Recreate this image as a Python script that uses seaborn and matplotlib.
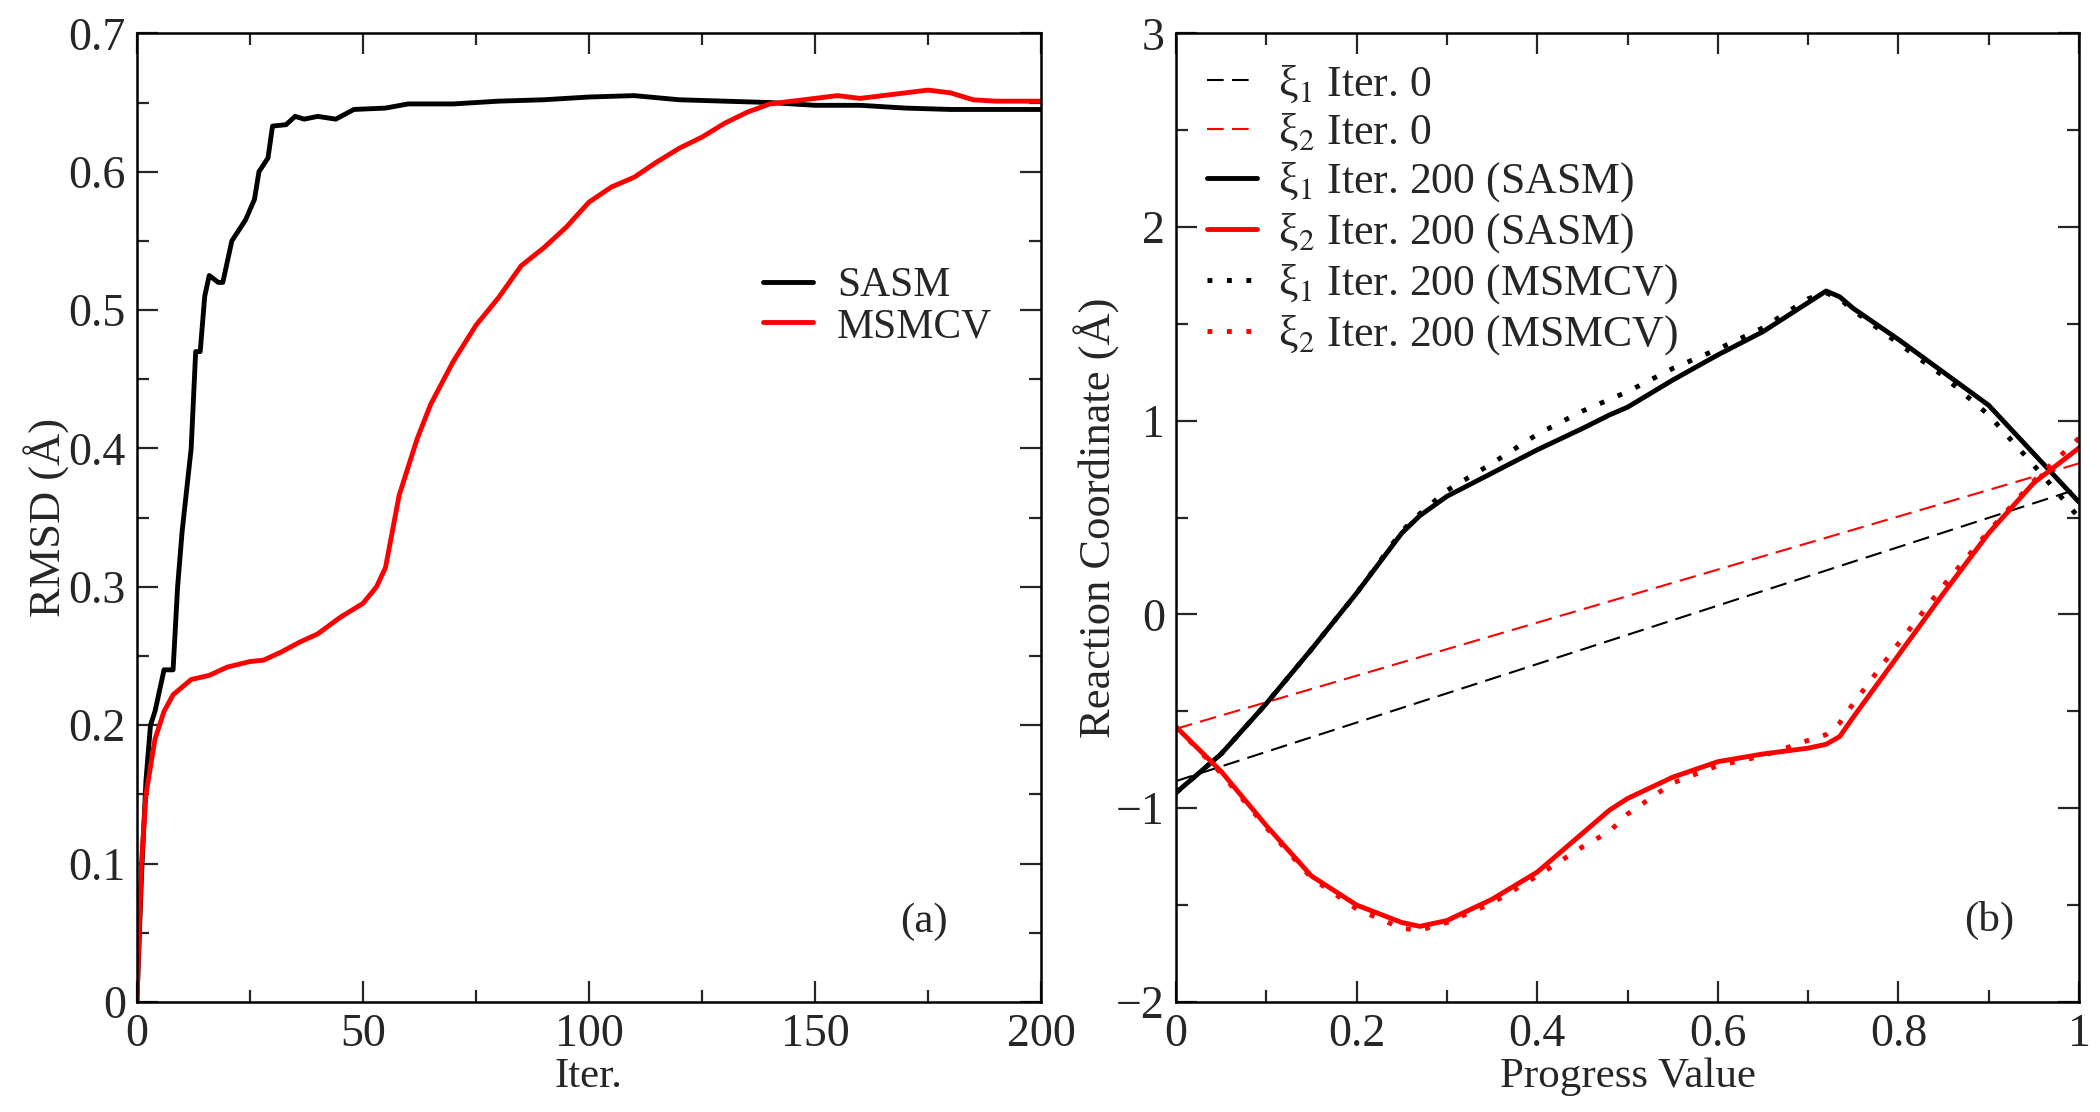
import numpy as np
import matplotlib
matplotlib.use("Agg")
import matplotlib.pyplot as plt
from matplotlib.ticker import MultipleLocator
import seaborn as sns

# ---- panel (a): RMSD vs iteration ----
sasm_iter = [0, 1, 2, 3, 4, 6, 8, 9, 10, 12, 13, 14, 15, 16, 18, 19, 21, 24, 26, 27, 29, 30, 33, 35,
             37, 40, 44, 48, 55, 60, 70, 80, 90, 100, 110, 120, 130, 140, 150, 160, 170, 180, 200]
sasm_rmsd = [0.0, 0.09, 0.16, 0.20, 0.21, 0.24, 0.24, 0.30, 0.34, 0.40, 0.47, 0.47, 0.51, 0.525, 0.52, 0.52,
             0.55, 0.565, 0.58, 0.60, 0.61, 0.633, 0.634, 0.64, 0.638, 0.64, 0.638, 0.645, 0.646, 0.649,
             0.649, 0.651, 0.652, 0.654, 0.655, 0.652, 0.651, 0.650, 0.648, 0.648, 0.646, 0.645, 0.645]

msmcv_iter = [0, 1, 2, 4, 6, 8, 12, 16, 20, 25, 28, 32, 36, 40, 45, 50, 53, 55, 58, 62, 65, 70, 75, 80,
              85, 90, 95, 100, 105, 110, 115, 120, 125, 130, 135, 140, 150, 155, 160, 170, 175, 180,
              185, 190, 200]
msmcv_rmsd = [0.0, 0.10, 0.15, 0.19, 0.21, 0.222, 0.233, 0.236, 0.242, 0.246, 0.247, 0.253, 0.26, 0.266,
              0.278, 0.288, 0.30, 0.314, 0.366, 0.407, 0.432, 0.463, 0.489, 0.509, 0.532, 0.545, 0.56,
              0.578, 0.589, 0.596, 0.607, 0.617, 0.625, 0.635, 0.643, 0.649, 0.653, 0.655, 0.653, 0.657,
              0.659, 0.657, 0.652, 0.651, 0.651]

# ---- panel (b): reaction coordinate vs progress value ----
prog_iter0 = [0.0, 1.0]
xi1_iter0 = [-0.86, 0.65]
xi2_iter0 = [-0.59, 0.78]

prog = [0.0, 0.05, 0.1, 0.15, 0.2, 0.25, 0.27, 0.3, 0.35, 0.4, 0.45, 0.48, 0.5, 0.55, 0.6, 0.65,
        0.7, 0.72, 0.735, 0.75, 0.8, 0.85, 0.9, 0.95, 1.0]
xi1_sasm = [-0.92, -0.72, -0.46, -0.18, 0.11, 0.42, 0.51, 0.61, 0.73, 0.85, 0.96, 1.03, 1.07, 1.21,
            1.34, 1.46, 1.61, 1.67, 1.64, 1.58, 1.42, 1.25, 1.08, 0.83, 0.58]
xi1_msmcv = [-0.92, -0.72, -0.46, -0.18, 0.11, 0.43, 0.52, 0.64, 0.78, 0.93, 1.05, 1.11, 1.15, 1.27,
             1.37, 1.48, 1.63, 1.66, 1.63, 1.57, 1.40, 1.23, 1.03, 0.77, 0.50]
xi2_sasm = [-0.58, -0.81, -1.09, -1.35, -1.50, -1.59, -1.61, -1.58, -1.47, -1.33, -1.13, -1.01, -0.95,
            -0.84, -0.76, -0.72, -0.69, -0.67, -0.63, -0.53, -0.21, 0.11, 0.42, 0.68, 0.86]
xi2_msmcv = [-0.58, -0.82, -1.10, -1.36, -1.52, -1.62, -1.63, -1.59, -1.49, -1.35, -1.20, -1.12, -1.03,
             -0.87, -0.78, -0.73, -0.65, -0.62, -0.56, -0.46, -0.15, 0.15, 0.43, 0.69, 0.91]

sns.set_style("ticks")
plt.rcParams['font.family'] = ['Liberation Serif', 'DejaVu Serif']
plt.rcParams['mathtext.fontset'] = 'stix'

fig = plt.figure(figsize=(21, 11.12), dpi=100)
ax1 = fig.add_axes([0.0652, 0.099, 0.4305, 0.871])
ax2 = fig.add_axes([0.560, 0.099, 0.430, 0.871])

sns.lineplot(x=sasm_iter, y=sasm_rmsd, color='black', lw=3.5, label='SASM', ax=ax1)
sns.lineplot(x=msmcv_iter, y=msmcv_rmsd, color='red', lw=3.5, label='MSMCV', ax=ax1)

dash = (0, (8, 4))
dot = (0, (1, 3))
sns.lineplot(x=prog_iter0, y=xi1_iter0, color='black', lw=1.5, linestyle=dash,
             label=r'ξ$_1$ Iter. 0', ax=ax2)
sns.lineplot(x=prog_iter0, y=xi2_iter0, color='red', lw=1.5, linestyle=dash,
             label=r'ξ$_2$ Iter. 0', ax=ax2)
sns.lineplot(x=prog, y=xi1_sasm, color='black', lw=3.5, label=r'ξ$_1$ Iter. 200 (SASM)', ax=ax2)
sns.lineplot(x=prog, y=xi2_sasm, color='red', lw=3.5, label=r'ξ$_2$ Iter. 200 (SASM)', ax=ax2)
sns.lineplot(x=prog, y=xi1_msmcv, color='black', lw=3.5, linestyle=dot,
             label=r'ξ$_1$ Iter. 200 (MSMCV)', ax=ax2)
sns.lineplot(x=prog, y=xi2_msmcv, color='red', lw=3.5, linestyle=dot,
             label=r'ξ$_2$ Iter. 200 (MSMCV)', ax=ax2)

# axis ranges / ticks (grace style: inward ticks on all sides)
ax1.set_xlim(0, 200)
ax1.set_ylim(0, 0.7)
ax1.xaxis.set_major_locator(MultipleLocator(50))
ax1.xaxis.set_minor_locator(MultipleLocator(25))
ax1.yaxis.set_minor_locator(MultipleLocator(0.05))
ax1.set_yticks(np.arange(0, 0.75, 0.1))
ax1.set_yticklabels(['0', '0.1', '0.2', '0.3', '0.4', '0.5', '0.6', '0.7'])

ax2.set_xlim(0, 1)
ax2.set_ylim(-2, 3)
ax2.xaxis.set_minor_locator(MultipleLocator(0.1))
ax2.yaxis.set_major_locator(MultipleLocator(1))
ax2.yaxis.set_minor_locator(MultipleLocator(0.5))
ax2.set_xticks([0, 0.2, 0.4, 0.6, 0.8, 1.0])
ax2.set_xticklabels(['0', '0.2', '0.4', '0.6', '0.8', '1'])

for ax in (ax1, ax2):
    ax.tick_params(which='both', direction='in', top=True, right=True, width=1.6, labelsize=33, pad=8)
    ax.tick_params(which='major', length=15)
    ax.tick_params(which='minor', length=8.5)
    for s in ax.spines.values():
        s.set_linewidth(1.8)
        s.set_color('black')

ax1.set_xlabel('Iter.', fontsize=31, va='center')
ax1.set_ylabel('RMSD (Å)', fontsize=32, va='center')
ax2.set_xlabel('Progress Value', fontsize=31, va='center')
ax2.set_ylabel('Reaction Coordinate (Å)', fontsize=32, va='center')
ax1.xaxis.set_label_coords(0.5, -0.077)
ax2.xaxis.set_label_coords(0.5, -0.077)
ax1.yaxis.set_label_coords(-0.0996, 0.5)
ax2.yaxis.set_label_coords(-0.0875, 0.5)

ax1.text(174, 0.058, '(a)', fontsize=31, ha='center', va='center')
ax2.text(0.90, -1.58, '(b)', fontsize=31, ha='center', va='center')

ax1.legend(loc='center left', bbox_to_anchor=(0.6925, 0.718), frameon=False, fontsize=30,
           borderpad=0, borderaxespad=0, handlelength=1.2, handletextpad=0.58, labelspacing=0.05)
ax2.legend(loc='upper left', bbox_to_anchor=(0.0343, 0.969), frameon=False, fontsize=31.5,
           borderpad=0, borderaxespad=0, handlelength=1.14, handletextpad=0.48, labelspacing=0.16)

fig.savefig('out.png', dpi=100)
plt.close()
